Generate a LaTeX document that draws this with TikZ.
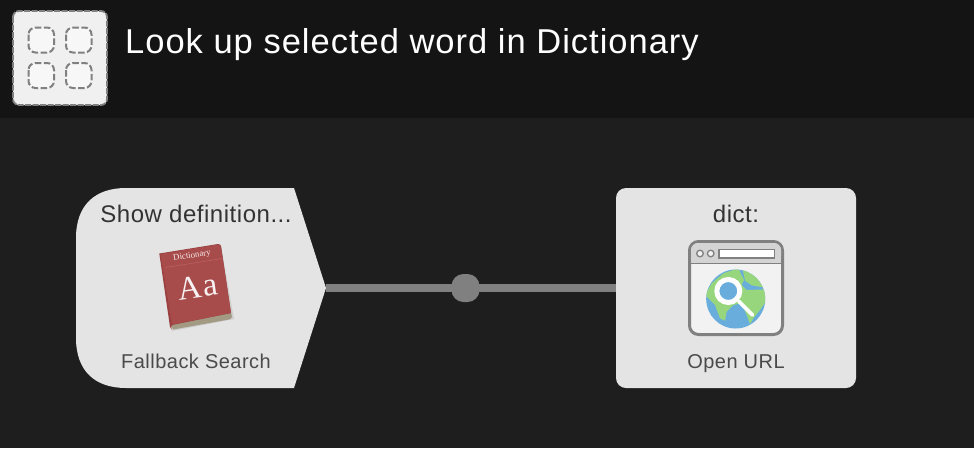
\documentclass[tikz,border=0pt]{standalone}
\usepackage{fontspec}
\setmainfont{Liberation Sans}
\newfontfamily\titlefont[LetterSpace=2.9]{Liberation Sans}
\newfontfamily\headfont[LetterSpace=2.2]{Liberation Sans}
\newfontfamily\footfont[LetterSpace=2.4]{Liberation Sans}
\definecolor{bgc}{HTML}{1E1E1E}
\definecolor{headc}{HTML}{141414}
\definecolor{cardc}{HTML}{E4E4E4}
\definecolor{wirec}{HTML}{808080}
\definecolor{darktext}{HTML}{333333}
\definecolor{midtext}{HTML}{4A4A4A}
\definecolor{bookred}{HTML}{A84B4B}
\definecolor{bookdark}{HTML}{9A4040}
\definecolor{booktop}{HTML}{BD6464}
\definecolor{pagesc}{HTML}{A39A84}
\definecolor{winborder}{HTML}{808080}
\definecolor{winbar}{HTML}{D4D4D4}
\definecolor{winbody}{HTML}{F2F2F2}
\definecolor{sea}{HTML}{69ADDC}
\definecolor{land}{HTML}{98D67E}
\definecolor{dashc}{HTML}{808080}
\tikzset{
  x=1pt,y=-1pt,
  titletext/.style={inner sep=0,anchor=base west,text=white,font=\titlefont\fontsize{34.5}{40}\selectfont},
  cardhead/.style={inner sep=0,anchor=base,text=darktext,font=\headfont\fontsize{24}{28}\selectfont},
  cardfoot/.style={inner sep=0,anchor=base,text=midtext,font=\footfont\fontsize{20}{24}\selectfont},
  cardbox/.style={draw=none,fill=cardc,rectangle,rounded corners=10pt,minimum width=240pt,minimum height=200pt,inner sep=0},
  wire/.style={draw=wirec,line width=8pt},
  junction/.style={fill=wirec,rectangle,rounded corners=12pt,minimum width=28pt,minimum height=28pt,inner sep=0},
  dashbox/.style={draw=dashc,line width=2pt,dash pattern=on 6.5pt off 2.5pt,fill=white!97!black,rounded corners=7pt},
}
\begin{document}
\begin{tikzpicture}
\useasboundingbox (0,0) rectangle (974,448);
\fill[bgc] (0,0) rectangle (974,448);
\fill[headc] (0,0) rectangle (974,118);

% header icon
\draw[draw=dashc,line width=1.8pt,dash pattern=on 6pt off 1.5pt,fill=white!94!black,rounded corners=6pt] (13,11) rectangle (107,105);
\draw[dashbox] (28.5,27.5) rectangle (54,52.5);
\draw[dashbox] (66,27.5) rectangle (91.5,52.5);
\draw[dashbox] (28.5,63) rectangle (54,88);
\draw[dashbox] (66,63) rectangle (91.5,88);
\node[titletext] (title) at (125,53) {Look up selected word in Dictionary};

% cards
\fill[cardc] (76,238) .. controls (76,205) and (95,188) .. (126,188) -- (294,188) -- (326,288) -- (294,388) -- (126,388) .. controls (95,388) and (76,371) .. (76,338) -- cycle;
\coordinate (tip) at (326,288);
\node[cardbox] (urlcard) at (736,288) {};
\coordinate (midc) at (465.5,288);
\draw[wire] (tip) -- (urlcard.west);
\node[junction] (mid) at (midc) {};

\node[cardhead] (showdef) at (196,222) {Show definition...};
\node[cardfoot] (fallback) at (196,368) {Fallback Search};
\node[cardhead] (dict) at (736,222) {dict:};
\node[cardfoot] (openurl) at (736,368) {Open URL};

% dictionary book
\fill[black!35,opacity=.35] (160.5,256) -- (221,246) -- (234,319) -- (172,331) -- cycle;
\fill[pagesc] (226,300) -- (232,316) .. controls (232,318) and (231,319) .. (229,319.5) -- (173,329.5) -- (170,322) -- cycle;
\fill[bookdark] (159.3,253.5) -- (218,244) .. controls (220,244) and (220.5,245) .. (221,246) -- (231,313) -- (172,325) .. controls (171,327) and (171,328) .. (171.8,329.5) -- (170,327) -- cycle;
\fill[bookred] (160.5,254) -- (218,244.5) .. controls (220,244.5) and (220.5,245.5) .. (221,247) -- (231,313) -- (172,324.5) -- cycle;
\draw[booktop,line width=.5pt] (165.5,267.5) -- (222.5,258.5);
\node[text=white!88!bookred,inner sep=0,rotate=9,font=\fontspec{Liberation Serif}\fontsize{8.8}{9}\selectfont] (booklabel) at (192,256) {Dictionary};
\node[text=white!92!bookred,inner sep=0,rotate=8,font=\fontspec{Liberation Serif}\fontsize{33}{34}\selectfont] (aa) at (198,287) {A\kern1.5pt a};

% open url icon
\draw[winborder,line width=3pt,fill=winbody,rounded corners=9pt] (689.5,241.5) rectangle (782.5,334.5);
\fill[winbar,rounded corners=7pt] (691,243) -- (781,243) -- (781,263) -- (691,263) -- cycle;
\fill[winbar] (691,255) rectangle (781,263);
\draw[winborder,line width=1.2pt] (690,263.5) -- (782,263.5);
\draw[winborder,line width=1.3pt,fill=winbody] (700,253.5) circle (3.3);
\draw[winborder,line width=1.3pt,fill=winbody] (710.7,253.5) circle (3.3);
\draw[winborder,line width=1.3pt,fill=white] (719,249.5) rectangle (774.5,258);
\begin{scope}
\clip (735.7,299) circle (29.5);
\fill[sea] (706,269) rectangle (766,329);
\begin{scope}[shift={(670,230)},scale=0.33333]
\fill[land] (105,195) -- (125,160) -- (160,130) -- (205,115) -- (222,150) -- (215,165) -- (230,180) -- (290,178) -- (290,210) -- (270,240) -- (250,265) -- (240,282) -- (230,255) -- (215,220) -- (190,225) -- (170,245) -- (165,272) -- (150,265) -- (135,225) -- (115,205) -- cycle;
\fill[land] (218,118) -- (255,130) -- (280,172) -- (245,166) -- (225,152) -- cycle;
\end{scope}
\end{scope}
\draw[white,line width=3.8pt,line cap=round] (739,301.5) -- (752.5,315);
\draw[white,line width=5pt,fill=sea] (728.3,291) circle (11.5);
\end{tikzpicture}
\end{document}
